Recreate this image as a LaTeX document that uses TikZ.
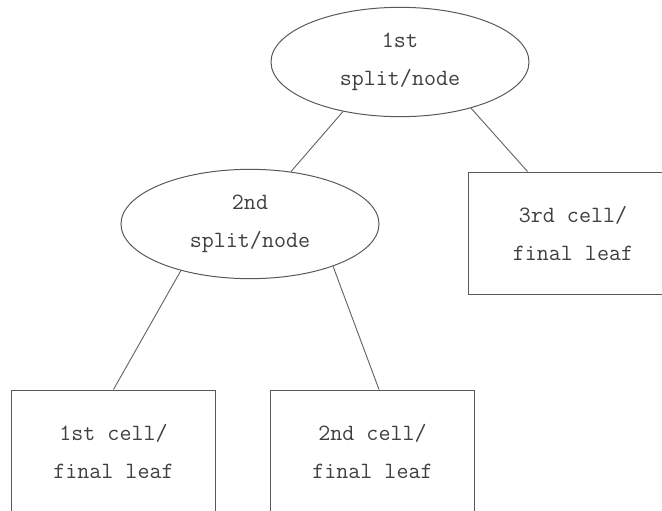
\documentclass[tikz,border=0pt]{standalone}
\usepackage{fontspec}
\usetikzlibrary{shapes.geometric}
\begin{document}
\begin{tikzpicture}[x=0.75pt,y=-0.75pt,
  every node/.style={font=\ttfamily\fontsize{17.5pt}{28.5pt}\selectfont,
                     text=black!75, align=center},
  splitnode/.style={ellipse, draw=black!65, line width=0.75pt, inner sep=0pt,
                    minimum width=193.5pt, minimum height=82pt},
  leafbox/.style={rectangle, draw=black!65, line width=0.75pt, inner sep=0pt,
                  minimum width=153pt, minimum height=91.5pt},
  branch/.style={draw=black!60, line width=0.7pt}]
  % page frame, 662 x 511 px
  \clip (0,0) rectangle (662,511);
  \fill[white] (0,0) rectangle (662,511);

  % split nodes
  \node[splitnode] (s1) at (400,62) {1st\\split/node};
  \node[splitnode] (s2) at (250,224) {2nd\\split/node};

  % leaves
  \node[leafbox, minimum width=157.5pt] (l3) at (573,233) {3rd cell/\\final leaf};
  \node[leafbox] (l1) at (113.5,451) {1st cell/\\final leaf};
  \node[leafbox] (l2) at (372.5,451) {2nd cell/\\final leaf};

  % branches
  \draw[branch] (s1.221) -- (s2.52);
  \draw[branch] (s1.-33) -- ([xshift=45pt]l3.north west);
  \draw[branch] (s2.214) -- (l1.north);
  \draw[branch] (s2.-27) -- ([xshift=81.75pt]l2.north west);
\end{tikzpicture}
\end{document}
